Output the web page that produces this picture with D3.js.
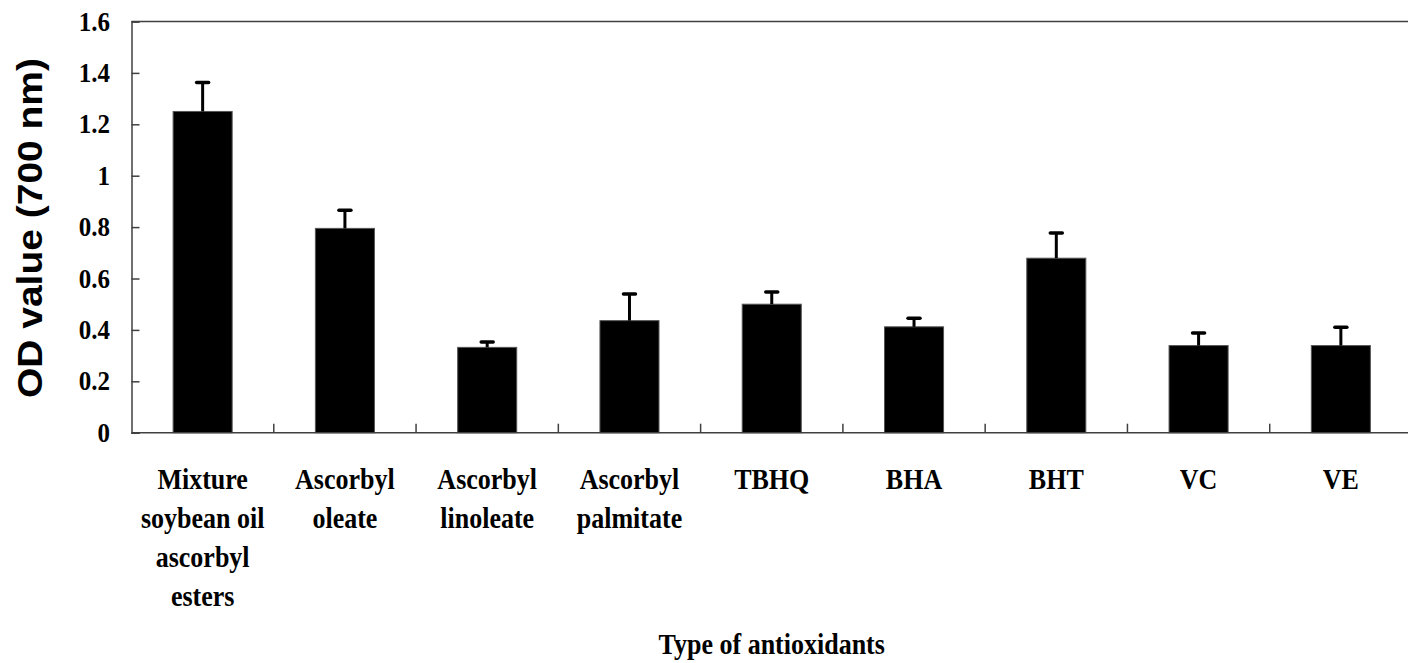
<html>
<head>
<script src="https://cdn.jsdelivr.net/npm/d3@7"></script>
<style>
  body { margin: 0; background: #fff; }
</style>
</head>
<body>
<div id="chart"></div>
<script type="text/javascript">

// ---- data ----
const categories = [
    ["Mixture", "soybean oil", "ascorbyl", "esters"],
    ["Ascorbyl", "oleate"],
    ["Ascorbyl", "linoleate"],
    ["Ascorbyl", "palmitate"],
    ["TBHQ"],
    ["BHA"],
    ["BHT"],
    ["VC"],
    ["VE"]
]
const odValues = [1.25, 0.795, 0.332, 0.436, 0.50, 0.412, 0.679, 0.339, 0.339]
const errValues = [0.113, 0.071, 0.021, 0.104, 0.047, 0.033, 0.098, 0.049, 0.071]
const yTicks = [0, 0.2, 0.4, 0.6, 0.8, 1, 1.2, 1.4, 1.6]

const width = 1408, height = 663
const plotLeft = 131.5, plotRight = 1412, plotTop = 21.5, plotBottom = 432.7
const serif = "Liberation Serif, Times New Roman, serif"
const stretch = 1.1   // the original's serif text is a little taller than normal

const svg = d3.select("#chart").append("svg")
    .attr("width", width)
    .attr("height", height)

const x = d3.scaleBand().domain(d3.range(categories.length)).range([plotLeft, plotRight]).padding(0)
const y = d3.scaleLinear().domain([0, 1.6]).range([plotBottom, plotTop])
const barW = x.bandwidth() * 0.415

// frame: top line (right edge falls just outside the picture)
svg.append("line")
    .attr("x1", plotLeft).attr("x2", plotRight)
    .attr("y1", plotTop).attr("y2", plotTop)
    .attr("stroke", "#404040").attr("stroke-width", 1.5)

// bars
svg.selectAll("rect.bar")
    .data(odValues)
    .enter()
    .append("rect")
    .attr("class", "bar")
    .attr("x", (d, i) => x(i) + (x.bandwidth() - barW) / 2)
    .attr("y", d => y(d))
    .attr("width", barW)
    .attr("height", d => y(0) - y(d))
    .attr("fill", "#000")
    .attr("stroke", "#555")
    .attr("stroke-width", 1)

// error bars (upper only)
const err = svg.append("g")
odValues.forEach((v, i) => {
    const cx = x(i) + x.bandwidth() / 2
    err.append("line")
        .attr("x1", cx).attr("x2", cx)
        .attr("y1", y(v)).attr("y2", y(v + errValues[i]))
        .attr("stroke", "#000").attr("stroke-width", 3)
    err.append("line")
        .attr("x1", cx - 6).attr("x2", cx + 6)
        .attr("y1", y(v + errValues[i])).attr("y2", y(v + errValues[i]))
        .attr("stroke", "#000").attr("stroke-width", 3.5)
        .attr("stroke-linecap", "round")
})

// y axis with inward ticks
const yAxis = d3.axisRight(y).tickValues(yTicks).tickSize(8).tickFormat("")
const gy = svg.append("g").attr("transform", `translate(${plotLeft},0)`).call(yAxis)
gy.select(".domain").attr("stroke", "#404040").attr("stroke-width", 1.5)
gy.selectAll(".tick line").attr("stroke", "#404040").attr("stroke-width", 1.5)

svg.selectAll("text.ytick")
    .data(yTicks)
    .enter()
    .append("text")
    .attr("class", "ytick")
    .attr("transform", d => `translate(110,${y(d) + 9}) scale(1,${stretch})`)
    .attr("text-anchor", "end")
    .attr("font-family", serif)
    .attr("font-weight", "bold")
    .attr("font-size", 25)
    .text(d => d3.format("~g")(d))

// x axis: baseline plus ticks at band edges pointing up
svg.append("line")
    .attr("x1", plotLeft).attr("x2", plotRight)
    .attr("y1", plotBottom).attr("y2", plotBottom)
    .attr("stroke", "#404040").attr("stroke-width", 1.5)

svg.selectAll("line.xtick")
    .data(d3.range(1, categories.length))
    .enter()
    .append("line")
    .attr("class", "xtick")
    .attr("x1", i => x(i)).attr("x2", i => x(i))
    .attr("y1", plotBottom).attr("y2", plotBottom - 9)
    .attr("stroke", "#404040").attr("stroke-width", 1.5)

// category labels
const labels = svg.selectAll("text.xlab")
    .data(categories)
    .enter()
    .append("text")
    .attr("class", "xlab")
    .attr("transform", (d, i) => `translate(${x(i) + x.bandwidth() / 2},489) scale(1,${stretch})`)
    .attr("text-anchor", "middle")
    .attr("font-family", serif)
    .attr("font-weight", "bold")
    .attr("font-size", 26)

labels.selectAll("tspan")
    .data(d => d)
    .enter()
    .append("tspan")
    .attr("x", 0)
    .attr("y", (d, k) => k * 39 / stretch)
    .text(d => d)

// axis titles
svg.append("text")
    .attr("transform", `translate(${(plotLeft + plotRight) / 2},654) scale(1,${stretch})`)
    .attr("text-anchor", "middle")
    .attr("font-family", serif)
    .attr("font-weight", "bold")
    .attr("font-size", 26)
    .text("Type of antioxidants")

svg.append("text")
    .attr("transform", "translate(42,228) rotate(-90)")
    .attr("text-anchor", "middle")
    .attr("font-family", "Liberation Sans, Arial, sans-serif")
    .attr("font-weight", "bold")
    .attr("font-size", 35)
    .attr("textLength", 340)
    .attr("lengthAdjust", "spacingAndGlyphs")
    .text("OD value (700 nm)")

</script>
</body>
</html>
